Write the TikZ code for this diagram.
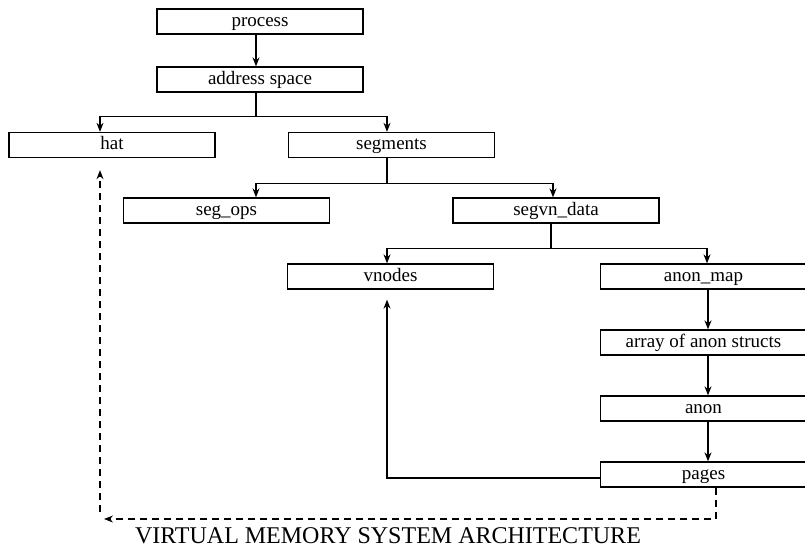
\documentclass[tikz,border=0pt]{standalone}
\usepackage{fontspec}
\setmainfont{Liberation Serif}
\usetikzlibrary{arrows.meta}
\begin{document}
\begin{tikzpicture}[x=1pt,y=-1pt,
  box/.style={draw, line width=1.3pt, minimum width=206pt, minimum height=25pt, inner sep=0pt, text height=14pt, text depth=5pt, font=\fontsize{19}{20}\selectfont},
  conn/.style={line width=1.3pt},
  tip/.style={-{Stealth[length=9pt,width=7pt]}},
  arr/.style={conn, tip},
  dsh/.style={line width=1.3pt, dash pattern=on 7pt off 5pt, tip}]
\useasboundingbox (0,0) rectangle (805,554);
\node[box] (process) at (260,21.5) {process};
\node[box] (addr) at (260,79.5) {address space};
\node[box] (hat) at (112,145) {hat};
\node[box] (segments) at (391.5,145) {segments};
\node[box] (segops) at (226.5,210.5) {seg\_ops};
\node[box] (segvn) at (556,210.5) {segvn\_data};
\node[box] (vnodes) at (390.5,276.5) {vnodes};
\node[box] (anonmap) at (703.5,276.5) {anon\_map};
\node[box] (array) at (703.5,342.5) {array of anon structs};
\node[box] (anon) at (703.5,408.5) {anon};
\node[box] (pages) at (703.5,474.5) {pages};
\node[font=\fontsize{24}{26}\selectfont] (title) at (388,536) {VIRTUAL MEMORY SYSTEM ARCHITECTURE};
\coordinate (dashend) at (104,519);
\coordinate (dashstart) at (100,512);
% connectors
\draw[arr] ([xshift=-4pt]process.south) -- ([xshift=-4pt]addr.north);
\draw[arr] ([xshift=-4pt]addr.south) -- ++(0,24) -| ([xshift=-12pt]hat.north);
\draw[arr] ([xshift=-4pt]addr.south) -- ++(0,24) -| ([xshift=-4.5pt]segments.north);
\draw[arr] ([xshift=-4.5pt]segments.south) -- ++(0,25) -| ([xshift=29.5pt]segops.north);
\draw[arr] ([xshift=-4.5pt]segments.south) -- ++(0,25) -| ([xshift=-3pt]segvn.north);
\draw[arr] ([xshift=-5pt]segvn.south) -- ++(0,25) -| ([xshift=-3.5pt]vnodes.north);
\draw[arr] ([xshift=-5pt]segvn.south) -- ++(0,25) -| ([xshift=3.5pt]anonmap.north);
\draw[arr] ([xshift=4.5pt]anonmap.south) -- ([xshift=4.5pt]array.north);
\draw[arr] ([xshift=4.5pt]array.south) -- ([xshift=4.5pt]anon.north);
\draw[arr] ([xshift=4.5pt]anon.south) -- ([xshift=4.5pt]pages.north);
\draw[arr, shorten >=10pt] ([yshift=-3.5pt]pages.west) -| ([xshift=-3.5pt]vnodes.south);
\draw[dsh] ([xshift=12.5pt]pages.south) |- (dashend);
\draw[dsh, shorten >=12pt] (dashstart) -- ([xshift=-12pt]hat.south);
\end{tikzpicture}
\end{document}
